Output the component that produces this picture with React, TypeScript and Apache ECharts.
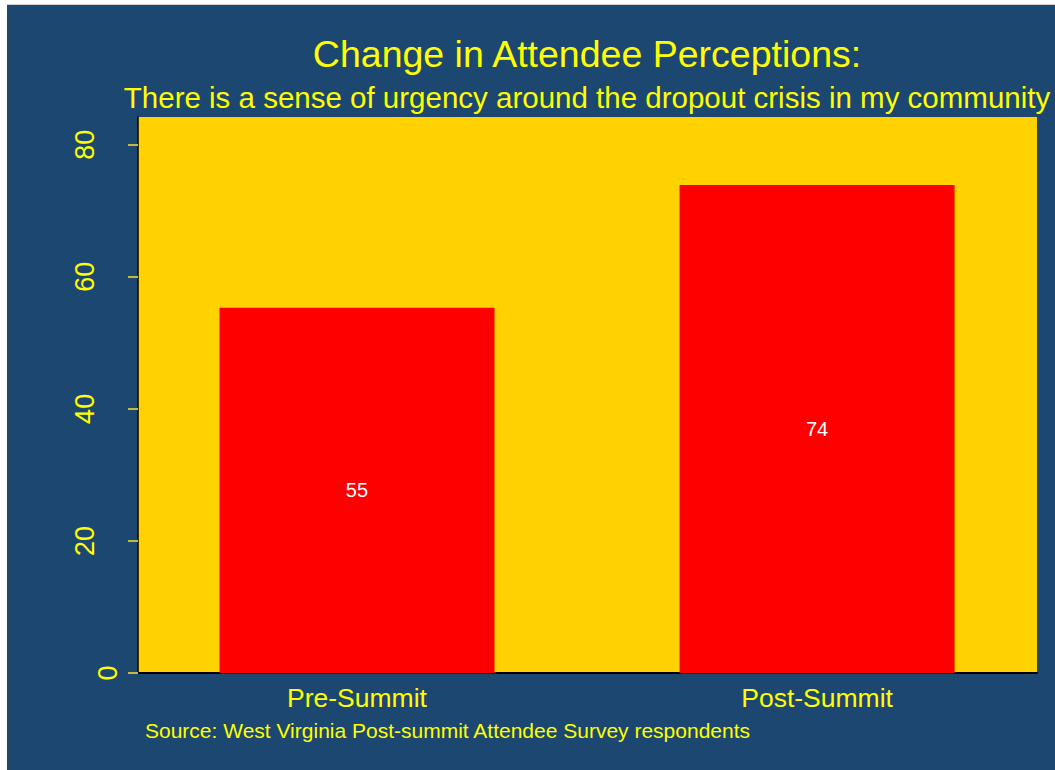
import React, { useEffect, useRef } from "react";
import * as echarts from "echarts";

const categories = ["Pre-Summit", "Post-Summit"];
const values = [55.3, 73.9];
const valueLabels = ["55", "74"];
const yTicks = [0, 20, 40, 60, 80];

const titleText = "Change in Attendee Perceptions:";
const subtitleText = "There is a sense of urgency around the dropout crisis in my community";
const sourceText = "Source: West Virginia Post-summit Attendee Survey respondents";

const FONT = "'Liberation Sans', Arial, Helvetica, sans-serif";

export default function App() {
  const ref = useRef<HTMLDivElement>(null);
  useEffect(() => {
    if (!ref.current) return;
    const chart = echarts.init(ref.current, undefined, { renderer: "svg" });
    chart.setOption({
      animation: false,
      backgroundColor: "#1c4770",
      textStyle: { fontFamily: FONT },
      grid: {
        left: 131,
        top: 112,
        right: 18,
        bottom: 97,
        show: true,
        backgroundColor: "#ffd200",
        borderWidth: 0,
      },
      graphic: [
        {
          type: "text",
          x: 580,
          y: 48.5,
          style: {
            text: titleText,
            fill: "#ffff00",
            font: `37.5px ${FONT}`,
            textAlign: "center",
            textVerticalAlign: "middle",
          },
        },
        {
          type: "text",
          x: 580,
          y: 92,
          style: {
            text: subtitleText,
            fill: "#ffff00",
            font: `29.5px ${FONT}`,
            textAlign: "center",
            textVerticalAlign: "middle",
          },
        },
        {
          type: "text",
          x: 138,
          y: 725,
          style: {
            text: sourceText,
            fill: "#ffff00",
            font: `21px ${FONT}`,
            textVerticalAlign: "middle",
          },
        },
      ],
      xAxis: {
        type: "value",
        min: -0.476,
        max: 1.478,
        axisLine: { show: true, onZero: false, lineStyle: { color: "#000000", width: 2 } },
        axisTick: { show: false },
        splitLine: { show: false },
        axisLabel: {
          customValues: [0, 1],
          formatter: (v: number) => categories[Math.round(v)] ?? "",
          color: "#ffff00",
          fontSize: 26.5,
          fontFamily: FONT,
          margin: 11,
        },
      },
      yAxis: {
        type: "value",
        min: 0,
        max: 84.2,
        interval: 20,
        axisLine: { show: true, onZero: false, lineStyle: { color: "#000000", width: 1.5 } },
        axisTick: {
          show: true,
          customValues: yTicks,
          length: 10,
          lineStyle: { color: "#c2ba3c", width: 2 },
        },
        splitLine: { show: false },
        axisLabel: {
          customValues: yTicks,
          rotate: 90,
          color: "#ffff00",
          fontSize: 27,
          fontFamily: FONT,
          margin: 17,
          formatter: (v: number) => (v === 0 ? `{z|${v}}` : `{n|${v}}`),
          rich: {
            z: { color: "#ffff00", fontSize: 27, fontFamily: FONT },
            n: { color: "#ffff00", fontSize: 27, fontFamily: FONT, padding: [0, 0, 23, 0] },
          },
        },
      },
      series: [
        {
          type: "bar",
          barWidth: 275,
          data: values.map((v, i) => [i, v]),
          itemStyle: { color: "#ff0000" },
          label: {
            show: true,
            position: "inside",
            color: "#ffffff",
            fontSize: 20,
            fontFamily: FONT,
            formatter: (p: any) => valueLabels[p.dataIndex],
          },
        },
      ],
    });
    return () => chart.dispose();
  }, []);
  return (
    <div style={{ position: "fixed", left: 0, top: 0, width: 1055, height: 770, background: "#ffffff" }}>
      <div style={{ position: "absolute", left: 7, top: 4, width: 1048, height: 1, background: "#d0d0d0" }} />
      <div ref={ref} style={{ position: "absolute", left: 7, top: 5, width: 1048, height: 765 }} />
    </div>
  );
}
